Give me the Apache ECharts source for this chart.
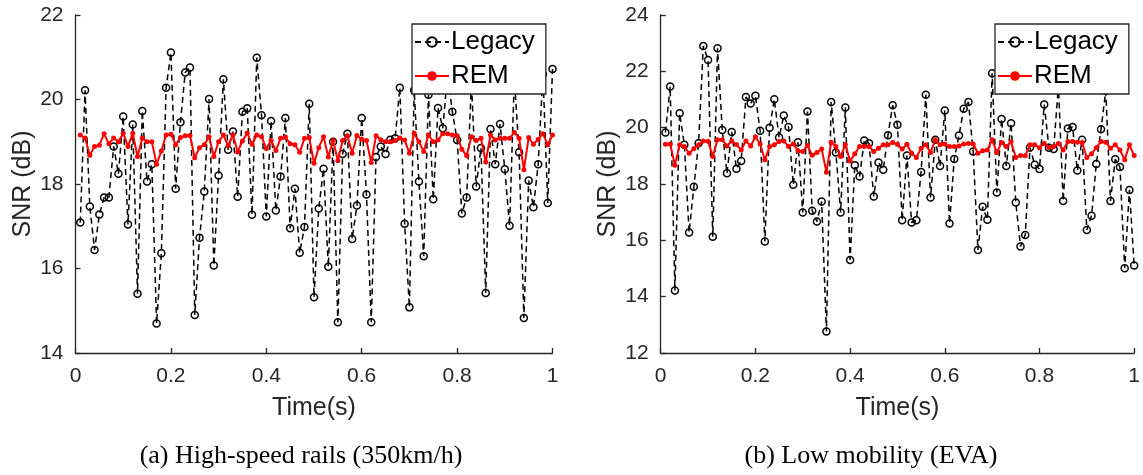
<!DOCTYPE html>
<html>
<head>
<meta charset="utf-8">
<script src="https://cdn.jsdelivr.net/npm/echarts@6/dist/echarts.min.js"></script>
<style>html,body{margin:0;padding:0;background:#fff;}#c{width:1143px;height:475px;}</style>
</head>
<body>
<div id="c"></div>
<script>
// sample step of the time axis (s); samples at 0.01 ... 1.00
const sampleStep = 0.01;

// (a) High-speed rails
const legacyA = [
17.09,20.22,17.47,16.44,17.28,17.68,17.68,18.89,18.24,19.60,
17.04,19.41,15.40,19.73,18.06,18.47,14.70,16.36,20.28,21.11,
17.89,19.46,20.64,20.76,14.90,16.73,17.82,20.01,16.07,18.20,
20.48,18.81,19.24,17.70,19.71,19.79,17.27,20.99,19.63,17.23,
19.49,17.37,18.18,19.56,16.95,17.89,16.37,16.98,19.90,15.32,
17.42,18.36,16.04,19.00,14.73,18.71,19.19,16.70,17.49,19.56,
17.75,14.73,18.64,18.89,18.71,19.05,19.08,20.28,17.06,15.08,
20.22,18.06,16.29,20.11,17.64,19.80,19.32,20.60,19.71,19.04,
17.30,17.68,20.40,17.94,18.85,15.42,19.30,18.47,19.42,18.35,
17.01,20.50,18.75,14.83,18.08,17.45,18.47,20.60,17.55,20.72
];
const remA = [
19.16,19.09,18.68,18.89,18.92,19.19,18.95,19.09,19.00,19.20,
18.89,19.20,18.65,19.08,19.00,19.00,18.47,18.78,19.16,19.18,
18.93,19.10,19.14,19.15,18.62,18.86,18.93,19.12,18.65,19.00,
19.16,18.91,19.16,18.76,19.02,19.21,18.94,19.16,19.12,18.84,
19.03,18.79,19.08,19.11,18.95,18.93,18.75,19.08,19.10,18.49,
18.86,19.12,18.64,19.03,18.55,19.03,19.14,18.73,19.15,19.06,
19.03,18.51,19.14,19.05,19.00,19.00,19.03,19.09,19.04,18.73,
19.20,19.00,18.77,19.16,19.00,19.04,19.19,19.19,19.16,19.14,
18.82,18.67,19.12,19.03,19.08,18.52,19.16,19.04,19.08,19.08,
19.08,19.22,19.08,18.34,19.10,18.94,19.06,19.19,18.93,19.16
];

// (b) Low mobility (EVA)
const legacyB = [
19.83,21.46,14.22,20.51,19.39,16.28,17.90,19.45,22.90,22.40,
16.13,22.82,19.92,18.38,19.85,18.54,18.82,21.09,20.86,21.13,
19.89,15.96,20.00,21.01,19.65,20.43,20.02,17.97,19.48,16.99,
20.57,17.05,16.67,17.38,12.76,20.91,19.12,16.99,20.72,15.30,
18.67,18.27,19.54,19.45,17.56,18.76,18.51,19.73,20.80,20.10,
16.71,19.01,16.63,16.71,18.43,21.17,17.52,19.57,18.64,20.61,
16.60,18.89,19.72,20.67,20.91,19.15,15.66,17.19,16.73,21.93,
17.70,20.31,18.64,20.16,17.34,15.78,16.19,19.30,18.68,18.53,
20.82,19.29,19.24,21.50,17.40,19.97,20.02,18.48,19.57,16.37,
16.87,18.71,19.94,21.30,17.40,18.88,18.60,15.01,17.79,15.11
];
const remB = [
19.41,19.42,18.67,19.39,19.33,19.09,19.25,19.39,19.53,19.52,
18.98,19.57,19.57,19.35,19.53,19.40,19.21,19.53,19.35,19.68,
19.42,18.86,19.33,19.39,19.51,19.53,19.33,19.42,19.18,19.15,
19.37,19.02,19.12,19.24,18.42,19.48,19.33,18.98,19.39,18.82,
19.07,19.33,19.33,19.33,19.15,19.27,19.39,19.39,19.47,19.41,
19.24,19.41,19.09,18.94,19.27,19.39,19.12,19.57,19.39,19.42,
19.33,19.33,19.35,19.42,19.44,19.42,19.09,19.18,19.21,19.57,
19.12,19.47,19.33,19.50,18.94,19.01,19.00,19.39,19.39,19.29,
19.44,19.30,19.33,19.44,19.21,19.51,19.51,19.48,19.47,18.94,
19.07,19.29,19.51,19.48,19.27,19.39,19.21,18.86,19.39,19.01
];

const xTicks = {min: 0, max: 1, interval: 0.2};
const yTicksA = {min: 14, max: 22, interval: 2};
const yTicksB = {min: 12, max: 24, interval: 2};
const captions = ['(a) High-speed rails (350km/h)', '(b) Low mobility (EVA)'];
const names = ['Legacy', 'REM'];

function pairs(vals) {
  return vals.map((v, i) => [+(sampleStep * (i + 1)).toFixed(2), v]);
}

const axisColor = '#262626';
const sans = 'Liberation Sans, Arial, Helvetica, sans-serif';

function xAxis(gi) {
  return {
    type: 'value', gridIndex: gi, min: xTicks.min, max: xTicks.max, interval: xTicks.interval,
    name: 'Time(s)', nameLocation: 'middle', nameGap: 43,
    nameTextStyle: {fontFamily: sans, fontSize: 25, color: axisColor},
    axisLine: {show: true, onZero: false, lineStyle: {color: axisColor, width: 1.3}},
    axisTick: {show: true, inside: true, length: 5, lineStyle: {color: axisColor, width: 1.3}},
    axisLabel: {fontFamily: sans, fontSize: 21, color: axisColor, margin: 13},
    splitLine: {show: false}
  };
}
function yAxis(gi, t) {
  return {
    type: 'value', gridIndex: gi, min: t.min, max: t.max, interval: t.interval,
    name: 'SNR (dB)', nameLocation: 'middle', nameGap: 40,
    nameTextStyle: {fontFamily: sans, fontSize: 25, color: axisColor},
    axisLine: {show: true, onZero: false, lineStyle: {color: axisColor, width: 1.3}},
    axisTick: {show: true, inside: true, length: 5, lineStyle: {color: axisColor, width: 1.3}},
    axisLabel: {fontFamily: sans, fontSize: 21, color: axisColor, margin: 12},
    splitLine: {show: false}
  };
}
function legacySeries(gi, vals) {
  return {
    name: names[0], type: 'line', xAxisIndex: gi, yAxisIndex: gi, data: pairs(vals),
    symbol: 'circle', symbolSize: 7, showAllSymbol: true, animation: false,
    lineStyle: {color: '#000', width: 1.5, type: [6, 4]},
    itemStyle: {color: 'rgba(255,255,255,0)', borderColor: '#000', borderWidth: 1.5},
    z: 2
  };
}
function remSeries(gi, vals) {
  return {
    name: names[1], type: 'line', xAxisIndex: gi, yAxisIndex: gi, data: pairs(vals),
    symbol: 'circle', symbolSize: 5, showAllSymbol: true, animation: false,
    lineStyle: {color: '#ff0000', width: 2},
    itemStyle: {color: '#ff0000', borderWidth: 0},
    z: 3
  };
}
function legend(left) {
  return {
    data: names, orient: 'vertical', left: left, top: 24,
    itemWidth: 34, itemHeight: 12, itemGap: 8,
    padding: [5, 11, 5, 2],
    backgroundColor: '#fff', borderColor: axisColor, borderWidth: 1.3, borderRadius: 0,
    textStyle: {fontFamily: sans, fontSize: 26, color: '#000', padding: [0, 0, 0, -3]},
    selectedMode: false
  };
}

const chart = echarts.init(document.getElementById('c'), null, {renderer: 'canvas'});
chart.setOption({
  animation: false,
  backgroundColor: '#fff',
  grid: [
    {left: 75.5, top: 15, width: 477, height: 338},
    {left: 660.7, top: 15, width: 476.6, height: 338}
  ],
  xAxis: [xAxis(0), xAxis(1)],
  yAxis: [yAxis(0, yTicksA), yAxis(1, yTicksB)],
  legend: [legend(412), legend(995)],
  series: [legacySeries(0, legacyA), remSeries(0, remA), legacySeries(1, legacyB), remSeries(1, remB)],
  graphic: [
    {type: 'text', x: 301, y: 456, style: {text: captions[0], textAlign: 'center', textVerticalAlign: 'middle', font: '26px "Liberation Serif", serif', fill: '#000'}},
    {type: 'text', x: 871, y: 456, style: {text: captions[1], textAlign: 'center', textVerticalAlign: 'middle', font: '26px "Liberation Serif", serif', fill: '#000'}}
  ]
});
</script>
</body>
</html>
